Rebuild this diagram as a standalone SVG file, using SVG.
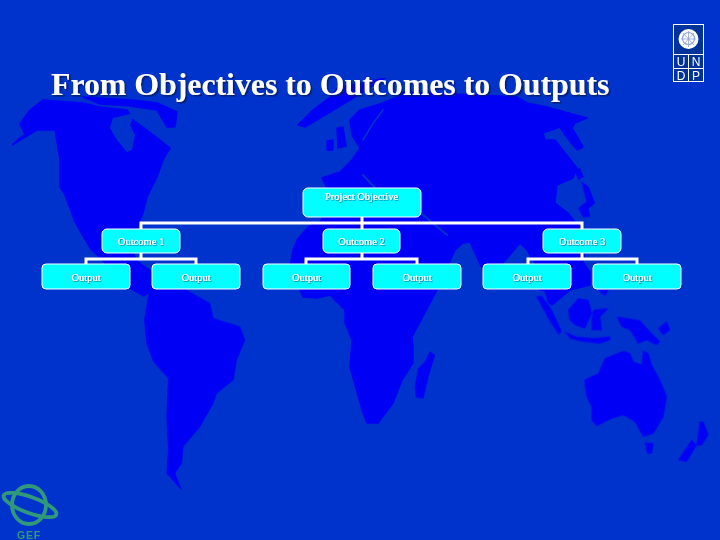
<svg xmlns="http://www.w3.org/2000/svg" width="720" height="540" viewBox="0 0 720 540">
<defs>
<filter id="titleShadow" x="-5%" y="-20%" width="110%" height="150%"><feDropShadow dx="1.6" dy="1.6" stdDeviation="0.6" flood-color="#001a66" flood-opacity="0.9"/></filter>
<filter id="labelShadow" x="-10%" y="-30%" width="120%" height="160%"><feDropShadow dx="0.7" dy="0.7" stdDeviation="0.3" flood-color="#00608a" flood-opacity="0.9"/></filter>
<filter id="soft" x="0" y="0" width="100%" height="100%"><feGaussianBlur stdDeviation="0.7"/></filter>
</defs>
<style>
.land{fill:#0000f5;stroke:#0000f5;stroke-width:1.5;stroke-linejoin:round}
.sea{fill:#0033cc}
.seal{fill:none;stroke:#0033cc;stroke-linecap:round}
.node{fill:#00ffff;stroke:#ffffff;stroke-width:1}
.lbl{font-family:"Liberation Serif","Times New Roman",serif;font-size:10.5px;fill:#ffffff;stroke:#ffffff;stroke-width:0.2;text-anchor:middle;filter:url(#labelShadow)}
.conn{fill:none;stroke:#ffffff;stroke-width:3}
.undp{font-family:"Liberation Sans",Arial,sans-serif;font-size:12px;fill:#ffffff;text-anchor:middle}
.gefl{fill:none;stroke:#2f9a7a;stroke-width:3.8}
</style>
<rect width="720" height="540" fill="#0033cc"/>
<g id="map" filter="url(#soft)">
<polygon class="land" points="12,145 20,138 25,135 20,124 30,110 43,100 83,103 100,107 127,110 133,120 143,127 160,140 170,148 163,160 157,177 147,197 143,213 138,225 133,253 138,262 150,270 155,285 150,292 144,296 130,288 110,268 90,248 75,222 65,195 60,187 60,160 55,130 37,130"/>
<polygon class="sea" points="113,118 135,113 130,125 135,135 132,150 127,152 117,140 110,128"/>
<polygon class="land" points="83,97 133,100 157,103 177,112 175,127 167,127 157,110 130,106 100,104"/>
<polygon class="land" points="298,125 313,110 333,95 337,88 385,78 350,100 325,115 305,127"/>
<g transform="translate(100,290) scale(0.3333)">
<polygon class="land" points="150,-10 133,90 140,160 160,215 205,265 200,380 205,480 200,550 245,600 225,550 245,520 250,470 300,410 340,340 350,310 400,270 410,210 435,150 420,110 340,85 330,40 260,0 250,-10"/>
<polygon class="land" points="990,185 1005,195 985,260 970,325 948,322 945,290 955,235 975,215"/>
</g>
<polygon class="land" points="350,120 360,110 383,103 397,97 403,92 480,95 517,97 527,103 547,107 587,118 575,123 572,128 583,147 577,150 565,135 560,127 543,133 545,140 555,140 577,168 573,178 557,185 555,203 568,213 575,222 583,230 585,250 583,262 590,272 590,285 570,290 552,305 546,291 540,290 535,263 527,250 520,243 503,263 499,286 490,286 470,242 463,243 455,250 437,290 412,337 413,347 413,363 402,380 393,403 378,423 367,423 363,413 350,367 352,340 345,323 345,310 330,295 317,298 303,297 290,267 293,250 297,240 308,227 320,222 330,205 328,190 322,178 340,172 352,160 360,148 352,135"/>
<path class="seal" stroke-width="1.5" d="M363 140L372 125L383 110"/>
<path class="seal" stroke-width="2" d="M363 175L377 190M422 214L447 235"/>
<polygon class="land" points="337,128 343,127 346,146 338,148"/>
<polygon class="land" points="327,141 333,140 333,150 327,150"/>
<g transform="translate(480,90) scale(0.3333)">
<polygon class="land" points="285,240 300,235 310,260 295,270"/>
<polygon class="land" points="305,275 325,290 345,340 325,355 330,380 310,382 295,355 320,335"/>
</g>
<g transform="translate(460,290) scale(0.3333)">
<polygon class="land" points="373,270 415,250 435,205 490,183 510,190 520,215 545,225 550,182 565,190 575,225 600,270 620,320 610,380 580,430 550,440 525,395 490,375 455,385 410,408 395,390 395,350 380,320"/>
<polygon class="land" points="555,458 580,460 575,490 562,490"/>
<polygon class="land" points="720,395 730,395 745,435 725,465 710,465 715,430"/>
<polygon class="land" points="695,450 710,465 680,515 655,510"/>
<polygon class="land" points="470,80 500,85 540,92 575,130 600,155 590,165 560,150 535,160 510,120 485,110"/>
<polygon class="land" points="595,115 620,95 630,120 610,135"/>
<polygon class="land" points="325,60 355,25 385,30 395,70 375,115 345,105 330,90"/>
<polygon class="land" points="400,60 445,55 420,80 425,120 395,120 395,90"/>
<polygon class="land" points="315,125 345,140 400,145 450,140 450,150 420,160 370,155 330,145"/>
<polygon class="land" points="230,20 245,18 275,60 305,125 295,132 265,85"/>
<polygon class="land" points="255,5 270,5 275,45 265,40"/>
<polygon class="land" points="415,0 445,0 435,18"/>
</g>
</g>
<text x="51" y="95" font-family="'Liberation Serif','Times New Roman',serif" font-size="31.800" font-weight="bold" fill="#ffffff" filter="url(#titleShadow)">From Objectives to Outcomes to Outputs</text>
<g id="connectors">
<path class="conn" d="M362 217V229M141 229V223H582V229"/>
<path class="conn" d="M141 253V259M86 264V259H196V264"/>
<path class="conn" d="M362 253V259M306 264V259H417V264"/>
<path class="conn" d="M582 253V259M528 264V259H637V264"/>
</g>
<g id="project-objective"><rect class="node" x="303" y="188" width="118" height="29" rx="5"/><text class="lbl" x="361.500" y="200">Project Objective</text></g>
<g id="outcome-1"><rect class="node" x="102" y="229" width="78" height="24" rx="5"/><text class="lbl" x="141" y="245">Outcome 1</text></g>
<g id="outcome-2"><rect class="node" x="323" y="229" width="77" height="24" rx="5"/><text class="lbl" x="361.500" y="245">Outcome 2</text></g>
<g id="outcome-3"><rect class="node" x="543" y="229" width="78" height="24" rx="5"/><text class="lbl" x="582" y="245">Outcome 3</text></g>
<g id="output-1"><rect class="node" x="42" y="264" width="88" height="25" rx="4"/><text class="lbl" x="86" y="281">Output</text></g>
<g id="output-2"><rect class="node" x="152" y="264" width="88" height="25" rx="4"/><text class="lbl" x="196" y="281">Output</text></g>
<g id="output-3"><rect class="node" x="263" y="264" width="87" height="25" rx="4"/><text class="lbl" x="306.500" y="281">Output</text></g>
<g id="output-4"><rect class="node" x="373" y="264" width="88" height="25" rx="4"/><text class="lbl" x="417" y="281">Output</text></g>
<g id="output-5"><rect class="node" x="483" y="264" width="88" height="25" rx="4"/><text class="lbl" x="527" y="281">Output</text></g>
<g id="output-6"><rect class="node" x="593" y="264" width="88" height="25" rx="4"/><text class="lbl" x="637" y="281">Output</text></g>
<g id="undp-logo">
<rect x="673.500" y="24.500" width="30" height="57" fill="#003399" stroke="#ffffff" stroke-width="1"/>
<path d="M673.500 54.500H703.500M673.500 68.500H703.500M688.500 54.500V81.500" stroke="#ffffff" fill="none" stroke-width="1"/>
<circle cx="688.500" cy="39" r="10" fill="#ffffff"/>
<circle cx="688.500" cy="38.500" r="6" fill="none" stroke="#8fa3d0" stroke-width="1.2"/>
<path d="M688.500 31V47M681 39H696M683 33L694 45M694 33L683 45" stroke="#8fa3d0" stroke-width="0.8" fill="none"/>
<text class="undp" x="681" y="66">U</text><text class="undp" x="696" y="66">N</text>
<text class="undp" x="681" y="80">D</text><text class="undp" x="696" y="80">P</text>
</g>
<g id="gef-logo">
<ellipse class="gefl" cx="29" cy="505" rx="17" ry="19"/>
<ellipse class="gefl" cx="30" cy="505" rx="28" ry="8" transform="rotate(20 30 505)"/>
<text x="17" y="539" font-family="'Liberation Sans',Arial,sans-serif" font-size="10.500" font-weight="bold" fill="#2f9a7a" letter-spacing="0.8">GEF</text>
</g>
</svg>
